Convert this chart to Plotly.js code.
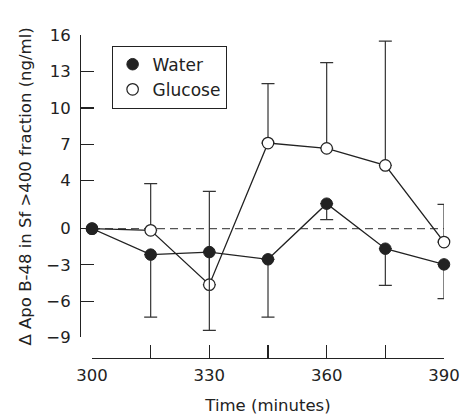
<!DOCTYPE html>
<html>
<head>
<meta charset="utf-8">
<script src="https://cdn.plot.ly/plotly-3.0.1.min.js"></script>
<style>html,body{margin:0;padding:0;background:#fff;}#chart{width:461px;height:418px;}</style>
</head>
<body>
<div id="chart"></div>
<script>
// Data
const times = [300, 315, 330, 345, 360, 375, 390];
const waterMean = [0, -2.15, -1.94, -2.54, 2.07, -1.66, -2.96];
const waterErrDown = [0, 5.17, 6.49, 4.78, 1.32, 3.04, 2.84];
const glucoseMean = [0, -0.14, -4.64, 7.09, 6.65, 5.24, -1.11];
const glucoseErrUp = [0, 3.87, 7.73, 4.92, 7.10, 10.30, 3.12];
const zeros = [0, 0, 0, 0, 0, 0, 0];
const yTickVals = [-9, -6, -3, 0, 4, 7, 10, 13, 16];
const yTickText = ['\u22129', '\u22126', '\u22123', '0', '4', '7', '10', '13', '16'];
const xTickVals = [300, 315, 330, 345, 360, 375, 390];
const xTickText = ['300', '', '330', '', '360', '', '390'];
const seriesNames = ['Water', 'Glucose'];

const FONT = '"DejaVu Sans", "Open Sans", sans-serif';
const INK = '#222';
const FS = 16.5;

const traces = [
  {
    x: times, y: glucoseMean, type: 'scatter', mode: 'lines+markers',
    showlegend: false, cliponaxis: false,
    line: {color: INK, width: 1.3},
    marker: {symbol: 'circle', size: 11.5, color: '#fff', line: {color: INK, width: 1.2}},
    error_y: {type: 'data', symmetric: false, array: glucoseErrUp, arrayminus: zeros,
              color: '#333', thickness: 1.2, width: 6.5}
  },
  {
    x: times, y: waterMean, type: 'scatter', mode: 'lines+markers',
    showlegend: false, cliponaxis: false,
    line: {color: INK, width: 1.3},
    marker: {symbol: 'circle', size: 11.5, color: INK, line: {color: INK, width: 1}},
    error_y: {type: 'data', symmetric: false, array: zeros, arrayminus: waterErrDown,
              color: '#333', thickness: 1.2, width: 6.5}
  },
  {
    x: [null], y: [null], type: 'scatter', mode: 'markers', name: seriesNames[0],
    marker: {symbol: 'circle', size: 11.5, color: INK, line: {color: INK, width: 1}}
  },
  {
    x: [null], y: [null], type: 'scatter', mode: 'markers', name: seriesNames[1],
    marker: {symbol: 'circle', size: 11.5, color: '#fff', line: {color: INK, width: 1.2}}
  }
];

const layout = {
  width: 461, height: 418,
  margin: {l: 80, r: 9, t: 35, b: 60},
  paper_bgcolor: '#fff', plot_bgcolor: '#fff',
  font: {family: FONT, size: FS, color: INK},
  showlegend: true,
  legend: {
    x: 0.085, y: 0.967, xanchor: 'left', yanchor: 'top',
    bgcolor: '#fff', bordercolor: INK, borderwidth: 1,
    font: {family: FONT, size: 17, color: INK},
    itemwidth: 30, tracegroupgap: 0
  },
  xaxis: {
    domain: [0.0323, 0.9785], range: [300, 390],
    anchor: 'free', position: 0,
    showline: true, linecolor: INK, linewidth: 1.3,
    ticks: 'inside', ticklen: 13, tickwidth: 1.2, tickcolor: INK,
    tickmode: 'array', tickvals: xTickVals, ticktext: xTickText,
    showgrid: false, zeroline: false, ticklabelstandoff: 2,
    tickfont: {family: FONT, size: FS, color: INK},
    title: {text: 'Time (minutes)', font: {family: FONT, size: FS, color: INK}, standoff: 15}
  },
  yaxis: {
    domain: [0.064, 0.9985], range: [-9, 16],
    anchor: 'free', position: 0,
    showline: true, linecolor: INK, linewidth: 1.3,
    ticks: 'inside', ticklen: 13, tickwidth: 1.2, tickcolor: INK,
    tickmode: 'array', tickvals: yTickVals, ticktext: yTickText,
    showgrid: false, zeroline: false, ticklabelstandoff: 6,
    tickfont: {family: FONT, size: FS, color: INK},
    title: {text: '\u0394 Apo B-48 in Sf >400 fraction (ng/ml)', font: {family: FONT, size: FS, color: INK}, standoff: 9}
  },
  shapes: [
    {type: 'line', xref: 'x', yref: 'y', x0: 300, x1: 391.5, y0: 0, y1: 0, layer: 'below',
     line: {color: '#555', width: 1.3, dash: '8px,5px'}}
  ]
};

Plotly.newPlot('chart', traces, layout, {displayModeBar: false, staticPlot: true});
</script>
</body>
</html>
